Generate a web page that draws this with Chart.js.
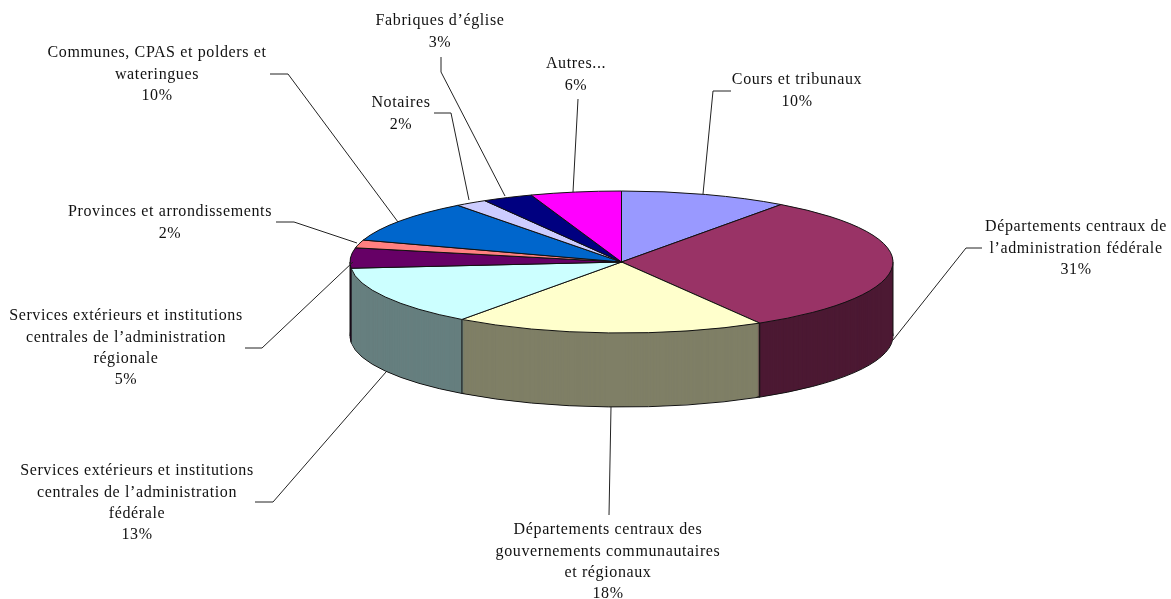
<!DOCTYPE html>
<html>
<head>
<meta charset="utf-8">
<style>
  html,body{margin:0;padding:0;background:#fff;}
  canvas{display:block;}
</style>
<script src="https://cdn.jsdelivr.net/npm/chart.js@4"></script>
</head>
<body>
<canvas id="pie" width="1171" height="599"></canvas>
<script>
const categories=[
    ['Cours et tribunaux'],
    ['Départements centraux de','l’administration fédérale'],
    ['Départements centraux des','gouvernements communautaires','et régionaux'],
    ['Services extérieurs et institutions','centrales de l’administration','fédérale'],
    ['Services extérieurs et institutions','centrales de l’administration','régionale'],
    ['Provinces et arrondissements'],
    ['Communes, CPAS et polders et','wateringues'],
    ['Notaires'],
    ['Fabriques d’église'],
    ['Autres...']
];
// printed percentages
const percents=['10%','31%','18%','13%','5%','2%','10%','2%','3%','6%'];
// slice sizes as measured on the drawn pie (the printed ones are rounded)
const sliceSizes=[10,31.5,18.5,13.6,4.6,1.8,9.7,1.9,3,5.4];
const topColors=['#9999FF','#993366','#FFFFCC','#CCFFFF','#660066','#FF8080','#0066CC','#CCCCFF','#000080','#FF00FF'];

// label placement: centre x, y of first line
const labelPos=[[797,80],[1076,227],[608,530],[137,471],[126,316],[170,212],[157,53],[401,103],[440,21],[576,64]];
const leaders=[
    [[703,194],[713,91],[731,91]],
    [[893,340],[966,248],[982,248]],
    [[611,407],[609,515]],
    [[386,372],[273,502],[255,502]],
    [[353,262],[262,348],[245,348]],
    [[357,243],[294,222],[276,222]],
    [[398,222],[288,74],[270,74]],
    [[469,200],[451,113],[434,113]],
    [[505,196],[441,72],[441,57]],
    [[573,192],[578,99]]
];

const CX=621.5, CY=262, RY=71, DEPTH=74, LINE_H=21.3;

function halfColor(hex) {
    const n=parseInt(hex.slice(1),16);
    return `rgb(${(n>>16)/2|0},${((n>>8)&255)/2|0},${(n&255)/2|0})`;
}

function squash(ctx,meta,dy) {
    const arc=meta.data[0];
    ctx.translate(CX,CY+dy);
    ctx.scale(1,RY/arc.outerRadius);
    ctx.translate(-arc.x,-arc.y);
}

const pie3d={
    id:'pie3d',
    beforeDatasetsDraw(chart) {
        const ctx=chart.ctx, meta=chart.getDatasetMeta(0);
        const plainStroke=ctx.stroke;
        // line width must not get squashed with the ellipse
        const flatStroke=function() {
            ctx.save();
            ctx.setTransform(1,0,0,1,0,0);
            plainStroke.call(ctx);
            ctx.restore();
        };
        ctx.stroke=flatStroke;

        for (let d=DEPTH;d>0;d--) {
            ctx.save();
            squash(ctx,meta,d);
            meta.data.forEach((arc,i)=>{
                const opts=arc.options;
                arc.options={...opts,backgroundColor:halfColor(topColors[i]),borderWidth:d===DEPTH?1:0};
                arc.draw(ctx);
                arc.options=opts;
            });
            ctx.restore();
        }
        delete ctx.stroke;

        // vertical edges of the wall
        const R=meta.data[0].outerRadius;
        const edges=[0,Math.PI,...meta.data.map(a=>a.startAngle).filter(a=>Math.sin(a)>0)];
        ctx.save();
        ctx.strokeStyle='#111';
        ctx.lineWidth=1;
        edges.forEach(a=>{
            const x=CX+R*Math.cos(a), y=CY+RY*Math.sin(a);
            ctx.beginPath();
            ctx.moveTo(x,y);
            ctx.lineTo(x,y+DEPTH);
            ctx.stroke();
        });
        ctx.restore();

        ctx.save();
        squash(ctx,meta,0);
        ctx.stroke=flatStroke;
    },
    afterDatasetsDraw(chart) {
        delete chart.ctx.stroke;
        chart.ctx.restore();
    },
    afterDraw(chart) {
        const ctx=chart.ctx;
        ctx.save();
        ctx.strokeStyle='#222';
        ctx.lineWidth=1;
        leaders.forEach(pts=>{
            ctx.beginPath();
            pts.forEach((p,i)=>i?ctx.lineTo(p[0],p[1]):ctx.moveTo(p[0],p[1]));
            ctx.stroke();
        });
        ctx.fillStyle='#111';
        ctx.font='16px "Liberation Serif"';
        ctx.letterSpacing='0.62px';
        ctx.textAlign='center';
        ctx.textBaseline='middle';
        categories.forEach((lines,i)=>{
            const [x,y]=labelPos[i];
            [...lines,percents[i]].forEach((t,k)=>ctx.fillText(t,x,y+k*LINE_H));
        });
        ctx.restore();
    }
};

new Chart(document.getElementById('pie'),{
    type:'pie',
    data:{
        labels:categories,
        datasets:[{
            data:sliceSizes,
            backgroundColor:topColors,
            borderColor:'#111',
            borderWidth:1,
            clip:false
        }]
    },
    options:{
        responsive:false,
        animation:false,
        radius:271.5,
        layout:{padding:{left:72,top:28,bottom:28}},
        plugins:{legend:{display:false},tooltip:{enabled:false}}
    },
    plugins:[pie3d]
});
</script>
</body>
</html>
